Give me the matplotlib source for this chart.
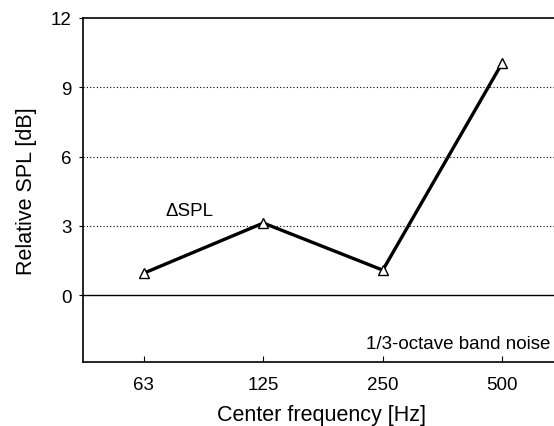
import numpy as np
import matplotlib.pyplot as plt

plt.rcParams['font.family'] = ['Liberation Sans', 'DejaVu Sans']

freq_labels = ['63', '125', '250', '500']
delta_spl = [0.95, 3.12, 1.08, 10.05]
y_ticks = [0, 3, 6, 9, 12]

x = np.arange(len(freq_labels))

fig = plt.figure(figsize=(5.54, 4.27), dpi=100)
ax = fig.add_axes([83/554, 1 - 363/427, 1 - 83/554 + 0.01, (363 - 19)/427])

for yv in [3, 6, 9]:
    ax.axhline(yv, color='black', lw=0.8, ls=(0, (1, 2)), zorder=1)
ax.axhline(0, color='black', lw=1.0, zorder=1)

ax.plot(x, delta_spl, color='black', lw=2.4, marker='^', markersize=7,
        markerfacecolor='white', markeredgecolor='black', markeredgewidth=1.0, zorder=3)

ax.set_xlim(-0.51, 3.48)
ax.set_ylim(-2.9, 12)
ax.set_xticks(x)
ax.set_xticklabels(freq_labels)
ax.set_yticks(y_ticks)
ax.tick_params(axis='x', direction='in', length=4, labelsize=13.5, pad=10)
ax.tick_params(axis='y', direction='out', length=3, labelsize=13.5, pad=5)
for s in ['left', 'top', 'bottom']:
    ax.spines[s].set_linewidth(1.2)
ax.spines['right'].set_visible(False)

ax.text(0.18, 3.3, '\u0394SPL', fontsize=13.5, ha='left', va='bottom')
ax.text(3.4, -2.1, '1/3-octave band noise', fontsize=13.5, ha='right', va='center')

ax.set_xlabel('Center frequency [Hz]', fontsize=15.5, labelpad=8)
ax.set_ylabel('Relative SPL [dB]', fontsize=15.5, labelpad=10)

fig.savefig('out.png', dpi=100)
